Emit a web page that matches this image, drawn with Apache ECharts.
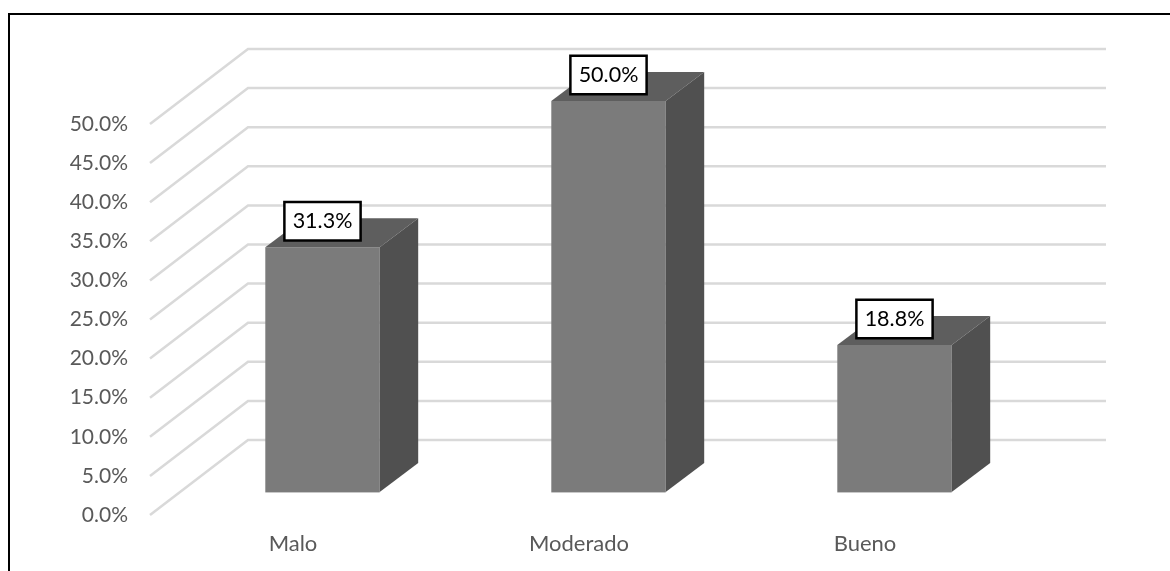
<!DOCTYPE html>
<html>
<head>
<meta charset="utf-8">
<style>html,body{margin:0;padding:0;background:#fff}#chart{width:1170px;height:571px}</style>
<script src="https://cdn.jsdelivr.net/npm/echarts@6/dist/echarts.min.js"></script>
</head>
<body>
<div id="chart"></div>
<script>
// Categories and percentages for the 3D-styled column chart
const categories = ['Malo', 'Moderado', 'Bueno'];
const percentages = [31.3, 50.0, 18.8];
const gridTicks = [0, 5, 10, 15, 20, 25, 30, 35, 40, 45, 50];

// Oblique projection: pixel offsets applied to the front plane
const WALL_DX = 98, WALL_DY = -75;      // back wall of the chart box
const BAR_DX = 29.5, BAR_DY = -23;      // where the column's front face sits
const DEPTH_DX = 38.5, DEPTH_DY = -29;  // column depth
const FONT = 'Lato, "Open Sans", sans-serif';

const chart = echarts.init(document.getElementById('chart'), null, { renderer: 'canvas' });

function renderGridLine(params, api) {
  const y = api.coord([0, api.value(1)])[1];
  const x0 = params.coordSys.x;
  const x1 = x0 + params.coordSys.width;
  return {
    type: 'polyline',
    shape: { points: [[x0, y], [x0 + WALL_DX, y + WALL_DY], [x1 + WALL_DX, y + WALL_DY]] },
    style: { stroke: '#d9d9d9', lineWidth: 2.5, fill: null },
    silent: true
  };
}

function renderColumn(params, api) {
  const idx = api.value(0);
  const value = api.value(1);
  const top = api.coord([idx, value]);
  const base = api.coord([idx, 0]);
  const w = api.size([1, 0])[0] * 0.4;
  const l = top[0] - w / 2 + BAR_DX, r = l + w;
  const t = top[1] + BAR_DY, b = base[1] + BAR_DY;
  const cx = (l + r) / 2;
  const text = value.toFixed(1) + '%';
  return {
    type: 'group',
    children: [
      {
        type: 'polygon',
        shape: { points: [[l, b], [r, b], [r, t], [l, t]] },
        style: { fill: '#7b7b7b' }
      },
      {
        type: 'line',
        shape: { x1: l, y1: b + 0.5, x2: r, y2: b + 0.5 },
        style: { stroke: '#c8c8c8', lineWidth: 1 }
      },
      {
        type: 'polygon',
        shape: { points: [[l, t], [r, t], [r + DEPTH_DX, t + DEPTH_DY], [l + DEPTH_DX, t + DEPTH_DY]] },
        style: { fill: '#5e5e5e' }
      },
      {
        type: 'polygon',
        shape: { points: [[r, t], [r + DEPTH_DX, t + DEPTH_DY], [r + DEPTH_DX, b + DEPTH_DY], [r, b]] },
        style: { fill: '#505050' }
      },
      {
        type: 'text',
        z2: 10,
        style: {
          x: cx,
          y: t - 26,
          text: text,
          align: 'center',
          verticalAlign: 'middle',
          font: '21.5px ' + FONT,
          fill: '#000',
          backgroundColor: '#fff',
          borderColor: '#000',
          borderWidth: 2.5,
          padding: [7, 7, 7, 7]
        }
      }
    ]
  };
}

chart.setOption({
  animation: false,
  backgroundColor: '#ffffff',
  graphic: [
    {
      // Outer frame: top and left edges only
      type: 'polyline',
      shape: { points: [[9, 571], [9, 14], [1170, 14]] },
      style: { stroke: '#000', lineWidth: 2, fill: null },
      silent: true
    }
  ],
  grid: { left: 150, top: 124, width: 858, height: 391 },
  xAxis: {
    type: 'category',
    data: categories,
    axisLine: { show: false },
    axisTick: { show: false },
    axisLabel: { color: '#595959', fontSize: 22, fontFamily: FONT, margin: 18 }
  },
  yAxis: {
    type: 'value',
    min: 0,
    max: 50,
    interval: 5,
    axisLine: { show: false },
    axisTick: { show: false },
    splitLine: { show: false },
    axisLabel: {
      color: '#595959',
      fontSize: 21,
      fontFamily: FONT,
      margin: 22,
      formatter: v => v.toFixed(1) + '%'
    }
  },
  series: [
    {
      type: 'custom',
      name: 'Rejilla',
      z: 1,
      silent: true,
      renderItem: renderGridLine,
      encode: { x: 0, y: 1 },
      data: gridTicks.map(t => [0, t])
    },
    {
      type: 'custom',
      name: 'Porcentaje',
      z: 2,
      renderItem: renderColumn,
      encode: { x: 0, y: 1 },
      data: percentages.map((p, i) => [i, p])
    }
  ]
});
</script>
</body>
</html>
